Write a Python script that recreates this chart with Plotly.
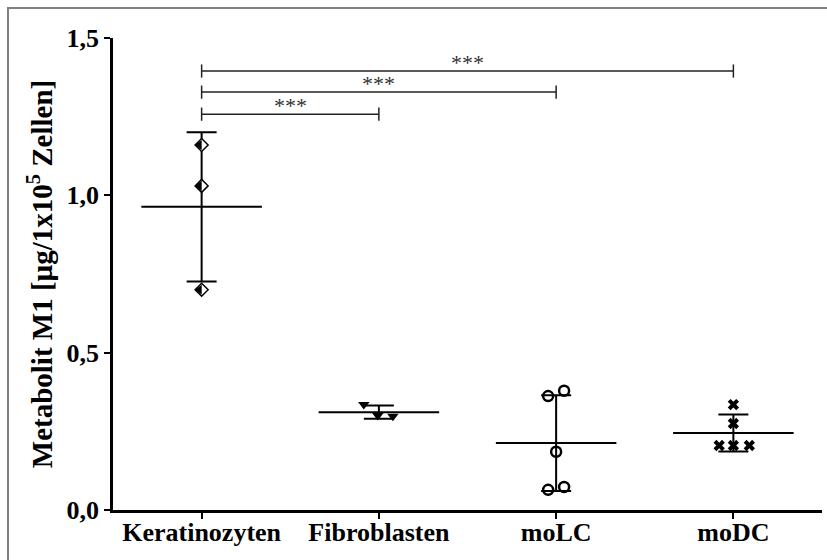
import numpy as np
import plotly.graph_objects as go

# ---- data -------------------------------------------------------------
categories = ["Keratinozyten", "Fibroblasten", "moLC", "moDC"]

keratinozyten = [1.16, 1.03, 0.70]
fibroblasten = [0.335, 0.300, 0.298]
molc = [0.362, 0.379, 0.185, 0.064, 0.073]
modc = [0.335, 0.275, 0.205, 0.205, 0.205]

# horizontal scatter of replicates inside each column (category units)
keratinozyten_jitter = [0.0, 0.0, 0.0]
fibroblasten_jitter = [-0.085, -0.006, 0.079]
molc_jitter = [-0.045, 0.045, 0.0, -0.045, 0.045]
modc_jitter = [0.0, 0.0, -0.08, 0.0, 0.09]

y_tick_values = [0.0, 0.5, 1.0, 1.5]
y_tick_labels = ["0,0", "0,5", "1,0", "1,5"]

comparisons = [
    ("Keratinozyten", "Fibroblasten", "***"),
    ("Keratinozyten", "moLC", "***"),
    ("Keratinozyten", "moDC", "***"),
]

# ---- styling ----------------------------------------------------------
SERIF = "Liberation Serif"
MEAN_HALF = 0.34          # half length of the mean line (category units)
BRACKET_LEVELS = [1.258, 1.328, 1.395]
BRACKET_TICK = 0.021

groups = [
    (keratinozyten, keratinozyten_jitter),
    (fibroblasten, fibroblasten_jitter),
    (molc, molc_jitter),
    (modc, modc_jitter),
]

fig = go.Figure()

# mean line + SD error bar for every group
for i, (vals, _) in enumerate(groups):
    v = np.asarray(vals, dtype=float)
    m = v.mean()
    sd = v.std(ddof=1)
    fig.add_trace(go.Scatter(
        x=[i - MEAN_HALF, i + MEAN_HALF], y=[m, m], mode="lines",
        line=dict(color="black", width=2), hoverinfo="skip"))
    fig.add_trace(go.Scatter(
        x=[i], y=[m], mode="markers", marker=dict(size=1, color="rgba(0,0,0,0)"),
        error_y=dict(type="data", array=[sd], symmetric=True,
                     color="black", thickness=2, width=15),
        hoverinfo="skip"))

# individual replicates
def xs(idx, jitter):
    return [idx + j for j in jitter]

# Keratinozyten: half-filled diamonds (white diamond + black left half)
fig.add_trace(go.Scatter(
    x=xs(0, keratinozyten_jitter), y=keratinozyten, mode="markers",
    marker=dict(symbol="diamond", size=10, color="white",
                line=dict(color="black", width=1.5))))
fig.add_trace(go.Scatter(
    x=[x - 0.012 for x in xs(0, keratinozyten_jitter)], y=keratinozyten,
    mode="markers",
    marker=dict(symbol="triangle-left", size=8.7, color="black",
                line=dict(width=0))))

# Fibroblasten: filled down triangles
fig.add_trace(go.Scatter(
    x=xs(1, fibroblasten_jitter), y=fibroblasten, mode="markers",
    marker=dict(symbol="triangle-down", size=10, color="black",
                line=dict(width=0))))

# moLC: open circles
fig.add_trace(go.Scatter(
    x=xs(2, molc_jitter), y=molc, mode="markers",
    marker=dict(symbol="circle-open", size=10,
                line=dict(color="black", width=2.5), color="black")))

# moDC: crosses
fig.add_trace(go.Scatter(
    x=xs(3, modc_jitter), y=modc, mode="markers",
    marker=dict(symbol="x", size=10, color="black", line=dict(width=0))))

# significance brackets
for (a, b, label), level in zip(comparisons, BRACKET_LEVELS):
    x0, x1 = categories.index(a), categories.index(b)
    fig.add_trace(go.Scatter(
        x=[x0, x0, None, x0, x1, None, x1, x1],
        y=[level - BRACKET_TICK, level + BRACKET_TICK, None, level, level, None,
           level - BRACKET_TICK, level + BRACKET_TICK],
        mode="lines", line=dict(color="#222222", width=1.5), hoverinfo="skip"))
    fig.add_annotation(
        x=(x0 + x1) / 2, y=level, text=label, showarrow=False,
        xanchor="center", yanchor="bottom", yshift=-6,
        font=dict(family=SERIF, size=22, color="#333333"))

# outer frame
fig.add_shape(type="rect", xref="paper", yref="paper",
              x0=-0.1481, y0=-0.25, x1=1.2, y1=1.0636,
              line=dict(color="#808080", width=2), layer="above")

tick_font = dict(family=SERIF, size=26, color="black", weight="bold")
title_font = dict(family=SERIF, size=29, color="black", weight="bold")

fig.update_layout(
    width=827, height=560,
    margin=dict(l=113, r=5, t=38, b=50),
    paper_bgcolor="white", plot_bgcolor="white",
    showlegend=False,
    xaxis=dict(
        range=[-0.5, 3.5], tickmode="array", tickvals=list(range(len(categories))),
        ticktext=categories, showgrid=False, zeroline=False,
        showline=True, linecolor="black", linewidth=2.5,
        ticks="outside", ticklen=6, tickwidth=2, tickcolor="black",
        ticklabelstandoff=-9, tickfont=tick_font),
    yaxis=dict(
        range=[0, 1.5], tickmode="array", tickvals=y_tick_values,
        ticktext=y_tick_labels, showgrid=False, zeroline=False,
        showline=True, linecolor="black", linewidth=2.5,
        ticks="outside", ticklen=6, tickwidth=2, tickcolor="black",
        tickfont=tick_font,
        title=dict(text="Metabolit M1 [µg/1x10<sup>5</sup> Zellen]",
                   font=title_font, standoff=6)),
)

fig.write_html("out.html")
